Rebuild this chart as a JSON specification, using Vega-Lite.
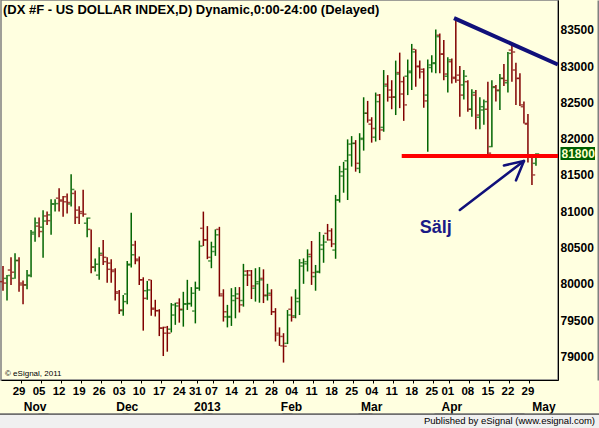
{
  "$schema": "https://vega.github.io/schema/vega-lite/v6.json",
  "width": 557,
  "height": 380,
  "autosize": {"type": "none"},
  "padding": {"left": 1, "top": 0, "right": 41, "bottom": 48},
  "background": "#FFFFE0",
  "config": {"view": {"stroke": "#808080", "strokeWidth": 1.5, "fill": "#FFFFE0"}, "font": "Liberation Sans"},
  "title": {"text": "(DX #F - US DOLLAR INDEX,D) Dynamic,0:00-24:00 (Delayed)", "anchor": "start", "frame": "group", "orient": "top", "offset": -27, "baseline": "alphabetic", "dx": 2, "font": "Liberation Sans", "fontSize": 13, "fontWeight": "bold", "color": "black"},
  "datasets": {
    "bars": [
      {"d":"2012-10-23","o":80030,"h":80245,"l":79905,"c":80010},
      {"d":"2012-10-24","o":80075,"h":80120,"l":79770,"c":80115},
      {"d":"2012-10-25","o":80190,"h":80365,"l":79985,"c":80160},
      {"d":"2012-10-26","o":80075,"h":80420,"l":80070,"c":80320},
      {"d":"2012-10-29","o":80320,"h":80365,"l":79890,"c":79985},
      {"d":"2012-10-30","o":80010,"h":80045,"l":79720,"c":79985},
      {"d":"2012-10-31","o":79985,"h":80190,"l":79925,"c":80120},
      {"d":"2012-11-01","o":80110,"h":80740,"l":80090,"c":80685},
      {"d":"2012-11-02","o":80710,"h":80915,"l":80580,"c":80840},
      {"d":"2012-11-05","o":80795,"h":80915,"l":80640,"c":80720},
      {"d":"2012-11-06","o":80780,"h":81015,"l":80360,"c":80865},
      {"d":"2012-11-07","o":80935,"h":80995,"l":80810,"c":80870},
      {"d":"2012-11-08","o":80950,"h":81165,"l":80675,"c":81100},
      {"d":"2012-11-09","o":81100,"h":81165,"l":80995,"c":81105},
      {"d":"2012-11-12","o":81180,"h":81315,"l":80995,"c":81140},
      {"d":"2012-11-13","o":81155,"h":81210,"l":80925,"c":81130},
      {"d":"2012-11-14","o":81200,"h":81245,"l":80970,"c":81120},
      {"d":"2012-11-15","o":81100,"h":81510,"l":81065,"c":81300},
      {"d":"2012-11-16","o":81245,"h":81285,"l":80825,"c":80915},
      {"d":"2012-11-19","o":81015,"h":81070,"l":80825,"c":80995},
      {"d":"2012-11-20","o":80970,"h":81295,"l":80925,"c":80960},
      {"d":"2012-11-21","o":80835,"h":80915,"l":80640,"c":80905},
      {"d":"2012-11-22","o":80750,"h":80750,"l":80145,"c":80230},
      {"d":"2012-11-23","o":80230,"h":80350,"l":80170,"c":80270},
      {"d":"2012-11-26","o":80120,"h":80505,"l":80055,"c":80420},
      {"d":"2012-11-27","o":80395,"h":80605,"l":80260,"c":80365},
      {"d":"2012-11-28","o":80305,"h":80365,"l":80015,"c":80200},
      {"d":"2012-11-29","o":80285,"h":80340,"l":80015,"c":80170},
      {"d":"2012-11-30","o":80190,"h":80215,"l":79770,"c":79870},
      {"d":"2012-12-03","o":79890,"h":79915,"l":79585,"c":79640},
      {"d":"2012-12-04","o":79630,"h":79845,"l":79560,"c":79755},
      {"d":"2012-12-05","o":79860,"h":80315,"l":79720,"c":80260},
      {"d":"2012-12-06","o":80270,"h":80980,"l":80225,"c":80400},
      {"d":"2012-12-07","o":80535,"h":80595,"l":80270,"c":80320},
      {"d":"2012-12-10","o":80340,"h":80375,"l":79985,"c":80055},
      {"d":"2012-12-11","o":80055,"h":80090,"l":79355,"c":79800},
      {"d":"2012-12-12","o":79905,"h":80040,"l":79780,"c":79915},
      {"d":"2012-12-13","o":80055,"h":80055,"l":79560,"c":79650},
      {"d":"2012-12-14","o":79665,"h":79780,"l":79550,"c":79630},
      {"d":"2012-12-17","o":79630,"h":79650,"l":79280,"c":79390},
      {"d":"2012-12-18","o":79390,"h":79410,"l":79005,"c":79320},
      {"d":"2012-12-19","o":79400,"h":79420,"l":79065,"c":79320},
      {"d":"2012-12-20","o":79375,"h":79735,"l":79330,"c":79710},
      {"d":"2012-12-21","o":79570,"h":79740,"l":79435,"c":79695},
      {"d":"2012-12-24","o":79735,"h":79800,"l":79465,"c":79650},
      {"d":"2012-12-26","o":79640,"h":79890,"l":79410,"c":79725},
      {"d":"2012-12-27","o":79720,"h":80055,"l":79640,"c":79730},
      {"d":"2012-12-28","o":79725,"h":79955,"l":79685,"c":79870},
      {"d":"2012-12-31","o":79625,"h":80030,"l":79455,"c":79940},
      {"d":"2013-01-02","o":79940,"h":80595,"l":79905,"c":80520},
      {"d":"2013-01-03","o":80765,"h":80995,"l":80520,"c":80605},
      {"d":"2013-01-04","o":80605,"h":80795,"l":80340,"c":80365},
      {"d":"2013-01-07","o":80315,"h":80580,"l":80215,"c":80445},
      {"d":"2013-01-08","o":80510,"h":80750,"l":80385,"c":80675},
      {"d":"2013-01-09","o":80750,"h":80785,"l":79825,"c":79835},
      {"d":"2013-01-10","o":79860,"h":79925,"l":79480,"c":79615},
      {"d":"2013-01-11","o":79545,"h":79710,"l":79400,"c":79550},
      {"d":"2013-01-14","o":79540,"h":79940,"l":79420,"c":79835},
      {"d":"2013-01-15","o":79770,"h":79955,"l":79525,"c":79860},
      {"d":"2013-01-16","o":79800,"h":79955,"l":79605,"c":79710},
      {"d":"2013-01-17","o":79770,"h":80275,"l":79685,"c":80120},
      {"d":"2013-01-18","o":80175,"h":80190,"l":79970,"c":80120},
      {"d":"2013-01-21","o":80180,"h":80190,"l":79790,"c":79970},
      {"d":"2013-01-22","o":79940,"h":80215,"l":79755,"c":80000},
      {"d":"2013-01-23","o":80030,"h":80230,"l":79740,"c":80055},
      {"d":"2013-01-24","o":80075,"h":80200,"l":79735,"c":79845},
      {"d":"2013-01-25","o":79835,"h":80000,"l":79770,"c":79870},
      {"d":"2013-01-28","o":79845,"h":79925,"l":79570,"c":79615},
      {"d":"2013-01-29","o":79615,"h":79665,"l":79205,"c":79320},
      {"d":"2013-01-30","o":79295,"h":79400,"l":79145,"c":79275},
      {"d":"2013-01-31","o":79145,"h":79320,"l":78915,"c":79140},
      {"d":"2013-02-01","o":79180,"h":79640,"l":79170,"c":79570},
      {"d":"2013-02-04","o":79650,"h":79825,"l":79480,"c":79540},
      {"d":"2013-02-05","o":79560,"h":79925,"l":79525,"c":79755},
      {"d":"2013-02-06","o":79800,"h":80340,"l":79570,"c":80245},
      {"d":"2013-02-07","o":80290,"h":80350,"l":80000,"c":80305},
      {"d":"2013-02-08","o":80275,"h":80475,"l":80170,"c":80375},
      {"d":"2013-02-11","o":80405,"h":80590,"l":79985,"c":80155},
      {"d":"2013-02-12","o":80100,"h":80260,"l":79905,"c":80160},
      {"d":"2013-02-13","o":80170,"h":80715,"l":80145,"c":80535},
      {"d":"2013-02-14","o":80475,"h":80675,"l":80290,"c":80575},
      {"d":"2013-02-15","o":80695,"h":80825,"l":80595,"c":80605},
      {"d":"2013-02-18","o":80730,"h":80765,"l":80505,"c":80550},
      {"d":"2013-02-19","o":80465,"h":81225,"l":80345,"c":81155},
      {"d":"2013-02-20","o":81155,"h":81625,"l":81120,"c":81545},
      {"d":"2013-02-21","o":81485,"h":81680,"l":81255,"c":81580},
      {"d":"2013-02-22","o":81695,"h":81990,"l":81155,"c":81775},
      {"d":"2013-02-25","o":81925,"h":82035,"l":81615,"c":81935},
      {"d":"2013-02-26","o":81935,"h":81980,"l":81545,"c":81660},
      {"d":"2013-02-27","o":81590,"h":82075,"l":81525,"c":81990},
      {"d":"2013-02-28","o":82005,"h":82570,"l":81835,"c":82350},
      {"d":"2013-03-01","o":82350,"h":82520,"l":82220,"c":82255},
      {"d":"2013-03-04","o":82200,"h":82295,"l":81945,"c":82140},
      {"d":"2013-03-05","o":82020,"h":82635,"l":81960,"c":82510},
      {"d":"2013-03-06","o":82600,"h":82615,"l":81980,"c":82120},
      {"d":"2013-03-07","o":82155,"h":82945,"l":82095,"c":82725},
      {"d":"2013-03-08","o":82750,"h":82875,"l":82510,"c":82570},
      {"d":"2013-03-11","o":82670,"h":82805,"l":82405,"c":82575},
      {"d":"2013-03-12","o":82570,"h":83075,"l":82325,"c":82890},
      {"d":"2013-03-13","o":82910,"h":83185,"l":82420,"c":82615},
      {"d":"2013-03-14","o":82785,"h":82855,"l":82245,"c":82465},
      {"d":"2013-03-15","o":82860,"h":83090,"l":82600,"c":82910},
      {"d":"2013-03-18","o":82930,"h":83305,"l":82670,"c":83195},
      {"d":"2013-03-19","o":83230,"h":83230,"l":82715,"c":83000},
      {"d":"2013-03-20","o":82990,"h":83075,"l":82830,"c":82920},
      {"d":"2013-03-21","o":82955,"h":82970,"l":82425,"c":82520},
      {"d":"2013-03-22","o":82600,"h":83090,"l":81820,"c":82980},
      {"d":"2013-03-25","o":83015,"h":83150,"l":82910,"c":83035},
      {"d":"2013-03-26","o":83045,"h":83505,"l":82900,"c":83405},
      {"d":"2013-03-27","o":83425,"h":83450,"l":82900,"c":83165},
      {"d":"2013-03-28","o":83165,"h":83360,"l":82805,"c":82890},
      {"d":"2013-04-01","o":82860,"h":83120,"l":82635,"c":83085},
      {"d":"2013-04-02","o":83060,"h":83105,"l":82760,"c":82845},
      {"d":"2013-04-03","o":82830,"h":83655,"l":82770,"c":82805},
      {"d":"2013-04-04","o":82875,"h":83000,"l":82300,"c":82600},
      {"d":"2013-04-05","o":82740,"h":82945,"l":82540,"c":82860},
      {"d":"2013-04-08","o":82785,"h":82805,"l":82370,"c":82405},
      {"d":"2013-04-09","o":82405,"h":82680,"l":82300,"c":82635},
      {"d":"2013-04-10","o":82600,"h":82670,"l":82130,"c":82325},
      {"d":"2013-04-11","o":82295,"h":82570,"l":82130,"c":82440},
      {"d":"2013-04-12","o":82395,"h":82540,"l":82190,"c":82510},
      {"d":"2013-04-15","o":82405,"h":82785,"l":81760,"c":81800},
      {"d":"2013-04-16","o":81890,"h":82805,"l":81880,"c":82705},
      {"d":"2013-04-17","o":82715,"h":82740,"l":82510,"c":82670},
      {"d":"2013-04-18","o":82660,"h":82890,"l":82395,"c":82830},
      {"d":"2013-04-19","o":82830,"h":83030,"l":82725,"c":82800},
      {"d":"2013-04-22","o":82770,"h":83195,"l":82635,"c":83175},
      {"d":"2013-04-23","o":83220,"h":83315,"l":82785,"c":83195},
      {"d":"2013-04-24","o":82945,"h":83045,"l":82465,"c":82830},
      {"d":"2013-04-25","o":82830,"h":82900,"l":82450,"c":82465},
      {"d":"2013-04-26","o":82440,"h":82510,"l":82210,"c":82210},
      {"d":"2013-04-29","o":82200,"h":82340,"l":81670,"c":81750},
      {"d":"2013-04-30","o":81750,"h":81760,"l":81360,"c":81500},
      {"d":"2013-05-01","o":81660,"h":81800,"l":81625,"c":81790}
    ],
    "ann": [
      {"seg":"support","d":"2013-03-14","v":81760},
      {"seg":"support","d":"2013-05-08","v":81760},
      {"seg":"trend","d":"2013-04-03","v":83650},
      {"seg":"trend","d":"2013-05-08","v":83033},
      {"seg":"shaft","d":"2013-04-04","v":81017},
      {"seg":"shaft","d":"2013-04-26","v":81692},
      {"seg":"head1","d":"2013-04-19","v":81630},
      {"seg":"head1","d":"2013-04-26","v":81692},
      {"seg":"head2","d":"2013-04-24","v":81424},
      {"seg":"head2","d":"2013-04-26","v":81692}
    ]
  },
  "resolve": {"axis": {"x": "independent", "y": "independent"}},
  "layer": [
    {
      "data": {"name": "bars"},
      "mark": {"type": "rule", "strokeWidth": 1.5},
      "encoding": {
        "x": {"field": "d", "type": "ordinal",
          "scale": {"type": "band", "paddingInner": 0, "paddingOuter": 0, "domain": ["2012-10-23","2012-10-24","2012-10-25","2012-10-26","2012-10-29","2012-10-30","2012-10-31","2012-11-01","2012-11-02","2012-11-05","2012-11-06","2012-11-07","2012-11-08","2012-11-09","2012-11-12","2012-11-13","2012-11-14","2012-11-15","2012-11-16","2012-11-19","2012-11-20","2012-11-21","2012-11-22","2012-11-23","2012-11-26","2012-11-27","2012-11-28","2012-11-29","2012-11-30","2012-12-03","2012-12-04","2012-12-05","2012-12-06","2012-12-07","2012-12-10","2012-12-11","2012-12-12","2012-12-13","2012-12-14","2012-12-17","2012-12-18","2012-12-19","2012-12-20","2012-12-21","2012-12-24","2012-12-26","2012-12-27","2012-12-28","2012-12-31","2013-01-02","2013-01-03","2013-01-04","2013-01-07","2013-01-08","2013-01-09","2013-01-10","2013-01-11","2013-01-14","2013-01-15","2013-01-16","2013-01-17","2013-01-18","2013-01-21","2013-01-22","2013-01-23","2013-01-24","2013-01-25","2013-01-28","2013-01-29","2013-01-30","2013-01-31","2013-02-01","2013-02-04","2013-02-05","2013-02-06","2013-02-07","2013-02-08","2013-02-11","2013-02-12","2013-02-13","2013-02-14","2013-02-15","2013-02-18","2013-02-19","2013-02-20","2013-02-21","2013-02-22","2013-02-25","2013-02-26","2013-02-27","2013-02-28","2013-03-01","2013-03-04","2013-03-05","2013-03-06","2013-03-07","2013-03-08","2013-03-11","2013-03-12","2013-03-13","2013-03-14","2013-03-15","2013-03-18","2013-03-19","2013-03-20","2013-03-21","2013-03-22","2013-03-25","2013-03-26","2013-03-27","2013-03-28","2013-04-01","2013-04-02","2013-04-03","2013-04-04","2013-04-05","2013-04-08","2013-04-09","2013-04-10","2013-04-11","2013-04-12","2013-04-15","2013-04-16","2013-04-17","2013-04-18","2013-04-19","2013-04-22","2013-04-23","2013-04-24","2013-04-25","2013-04-26","2013-04-29","2013-04-30","2013-05-01","2013-05-02","2013-05-03","2013-05-06","2013-05-07","2013-05-08"]},
          "axis": {"values": ["2012-10-29","2012-11-05","2012-11-12","2012-11-19","2012-11-26","2012-12-03","2012-12-10","2012-12-17","2012-12-24","2012-12-31","2013-01-07","2013-01-14","2013-01-21","2013-01-28","2013-02-04","2013-02-11","2013-02-18","2013-02-25","2013-03-04","2013-03-11","2013-03-18","2013-03-25","2013-04-01","2013-04-08","2013-04-15","2013-04-22","2013-04-29"],
            "labelExpr": "slice(datum.value, 8, 10)", "orient": "bottom", "title": null, "bandPosition": 1,
            "tickSize": 3, "tickColor": "black", "tickWidth": 1, "domainColor": "black", "domainWidth": 1,
            "labelFont": "Liberation Sans", "labelFontSize": 11.5, "labelFontWeight": "bold", "labelColor": "black",
            "labelPadding": 2, "labelAngle": 0, "labelOverlap": false, "labelBound": false, "labelFlush": false, "grid": false}},
        "y": {"field": "l", "type": "quantitative",
          "scale": {"domain": [78675, 83910], "zero": false, "nice": false},
          "axis": {"orient": "right", "values": [79000,79500,80000,80500,81000,81500,82000,82500,83000,83500], "format": "d",
            "ticks": false, "tickSize": 0, "domain": true, "domainColor": "black", "domainWidth": 1, "labelPadding": 2,
            "labelFont": "Liberation Sans", "labelFontSize": 12, "labelFontWeight": "bold", "labelColor": "black", "title": null, "grid": false}},
        "y2": {"field": "h"},
        "color": {"condition": {"test": "datum.c >= datum.o", "value": "#006400"}, "value": "#800000"}
      }
    },
    {
      "data": {"name": "bars"},
      "mark": {"type": "tick", "orient": "horizontal", "size": 2.5, "thickness": 1.5, "xOffset": -2},
      "encoding": {
        "x": {"field": "d", "type": "ordinal",
          "axis": {"values": ["2012-11-02","2012-12-05","2013-01-04","2013-02-04","2013-03-04","2013-04-02","2013-05-03"],
            "labelExpr": "datum.value == '2013-01-04' ? '2013' : utcFormat(toDate(datum.value), '%b')",
            "orient": "bottom", "bandPosition": 1, "ticks": false, "tickSize": 0, "domain": false, "labelPadding": 21,
            "labelFont": "Liberation Sans", "labelFontSize": 12, "labelFontWeight": "bold", "labelColor": "black",
            "title": null, "labelAngle": 0, "labelOverlap": false, "labelBound": false, "labelFlush": false, "grid": false}},
        "y": {"field": "o", "type": "quantitative",
          "axis": {"orient": "right", "values": [81800], "format": "d", "offset": 2, "domain": false, "ticks": true,
            "tickSize": 34.5, "tickWidth": 13, "tickColor": "#006000", "labelPadding": -33.5, "labelColor": "#FFFFCC",
            "labelFont": "Liberation Sans", "labelFontSize": 12, "labelFontWeight": "bold", "title": null, "grid": false,
            "labelAlign": "left", "labelBaseline": "middle"}},
        "color": {"condition": {"test": "datum.c >= datum.o", "value": "#006400"}, "value": "#800000"}
      }
    },
    {
      "data": {"name": "bars"},
      "mark": {"type": "tick", "orient": "horizontal", "size": 2.5, "thickness": 1.5, "xOffset": 2},
      "encoding": {
        "x": {"field": "d", "type": "ordinal",
          "axis": {"values": ["2012-10-23","2012-11-20","2012-12-19","2013-01-18","2013-02-15","2013-03-14","2013-04-11","2013-05-08"],
            "labelExpr": "datum.value == '2013-05-08' ? 'Published by eSignal (www.esignal.com)' : ''", "orient": "bottom",
            "offset": 34, "tickSize": 14, "tickWidth": 90, "tickColor": "#F0F0F0", "domain": false,
            "labelAlign": "right", "labelOffset": 39, "labelPadding": -12.8, "labelFontSize": 9.5, "labelFont": "Liberation Sans",
            "labelColor": "black", "labelFontWeight": "normal", "labelBaseline": "top", "labelLimit": 0, "title": null, "labelAngle": 0,
            "labelBound": false, "labelFlush": false, "labelOverlap": false, "grid": false}},
        "y": {"field": "c", "type": "quantitative",
          "axis": {"orient": "right", "offset": 40, "domain": true, "domainColor": "#808080", "domainWidth": 2,
            "ticks": false, "labels": false, "title": null, "grid": false}},
        "color": {"condition": {"test": "datum.c >= datum.o", "value": "#006400"}, "value": "#800000"}
      }
    },
    {
      "data": {"name": "ann"},
      "transform": [{"filter": "datum.seg == 'support'"}],
      "mark": {"type": "line", "color": "#FF0000", "strokeWidth": 4, "strokeCap": "square"},
      "encoding": {
        "x": {"field": "d", "type": "ordinal",
          "axis": {"values": ["2012-10-23","2012-11-20","2012-12-19","2013-01-18","2013-02-15","2013-03-14","2013-04-11","2013-05-08"],
            "labels": false, "orient": "bottom", "offset": 32.8, "tickSize": 1.6,
            "tickWidth": 90, "tickColor": "#6E6E6E", "domain": false, "title": null, "grid": false}},
        "y": {"field": "v", "type": "quantitative", "axis": null}
      }
    },
    {
      "data": {"name": "ann"},
      "transform": [{"filter": "datum.seg == 'trend'"}],
      "mark": {"type": "line", "color": "#10107A", "strokeWidth": 4, "strokeCap": "square"},
      "encoding": {
        "x": {"field": "d", "type": "ordinal", "axis": null},
        "y": {"field": "v", "type": "quantitative", "axis": null}
      }
    },
    {
      "data": {"name": "ann"},
      "transform": [{"filter": "datum.seg == 'shaft' || datum.seg == 'head1' || datum.seg == 'head2'"}],
      "mark": {"type": "line", "color": "#10107A", "strokeWidth": 2.5, "strokeCap": "round"},
      "encoding": {
        "x": {"field": "d", "type": "ordinal", "axis": null},
        "y": {"field": "v", "type": "quantitative", "axis": null},
        "detail": {"field": "seg"}
      }
    },
    {
      "data": {"values": [{"d": "2013-03-26", "v": 80696, "t": "Sälj"}]},
      "mark": {"type": "text", "font": "Liberation Sans", "fontSize": 18, "fontWeight": "bold", "color": "#1A1A86", "align": "center", "baseline": "alphabetic"},
      "encoding": {
        "x": {"field": "d", "type": "ordinal", "axis": null},
        "y": {"field": "v", "type": "quantitative", "axis": null},
        "text": {"field": "t"}
      }
    },
    {
      "data": {"values": [{"d": "2012-10-23", "v": 78732, "t": "© eSignal, 2011"}]},
      "mark": {"type": "text", "font": "Liberation Sans", "fontSize": 8, "color": "black", "align": "left", "baseline": "alphabetic", "dx": 2},
      "encoding": {
        "x": {"field": "d", "type": "ordinal", "axis": null},
        "y": {"field": "v", "type": "quantitative", "axis": null},
        "text": {"field": "t"}
      }
    }
  ]
}
